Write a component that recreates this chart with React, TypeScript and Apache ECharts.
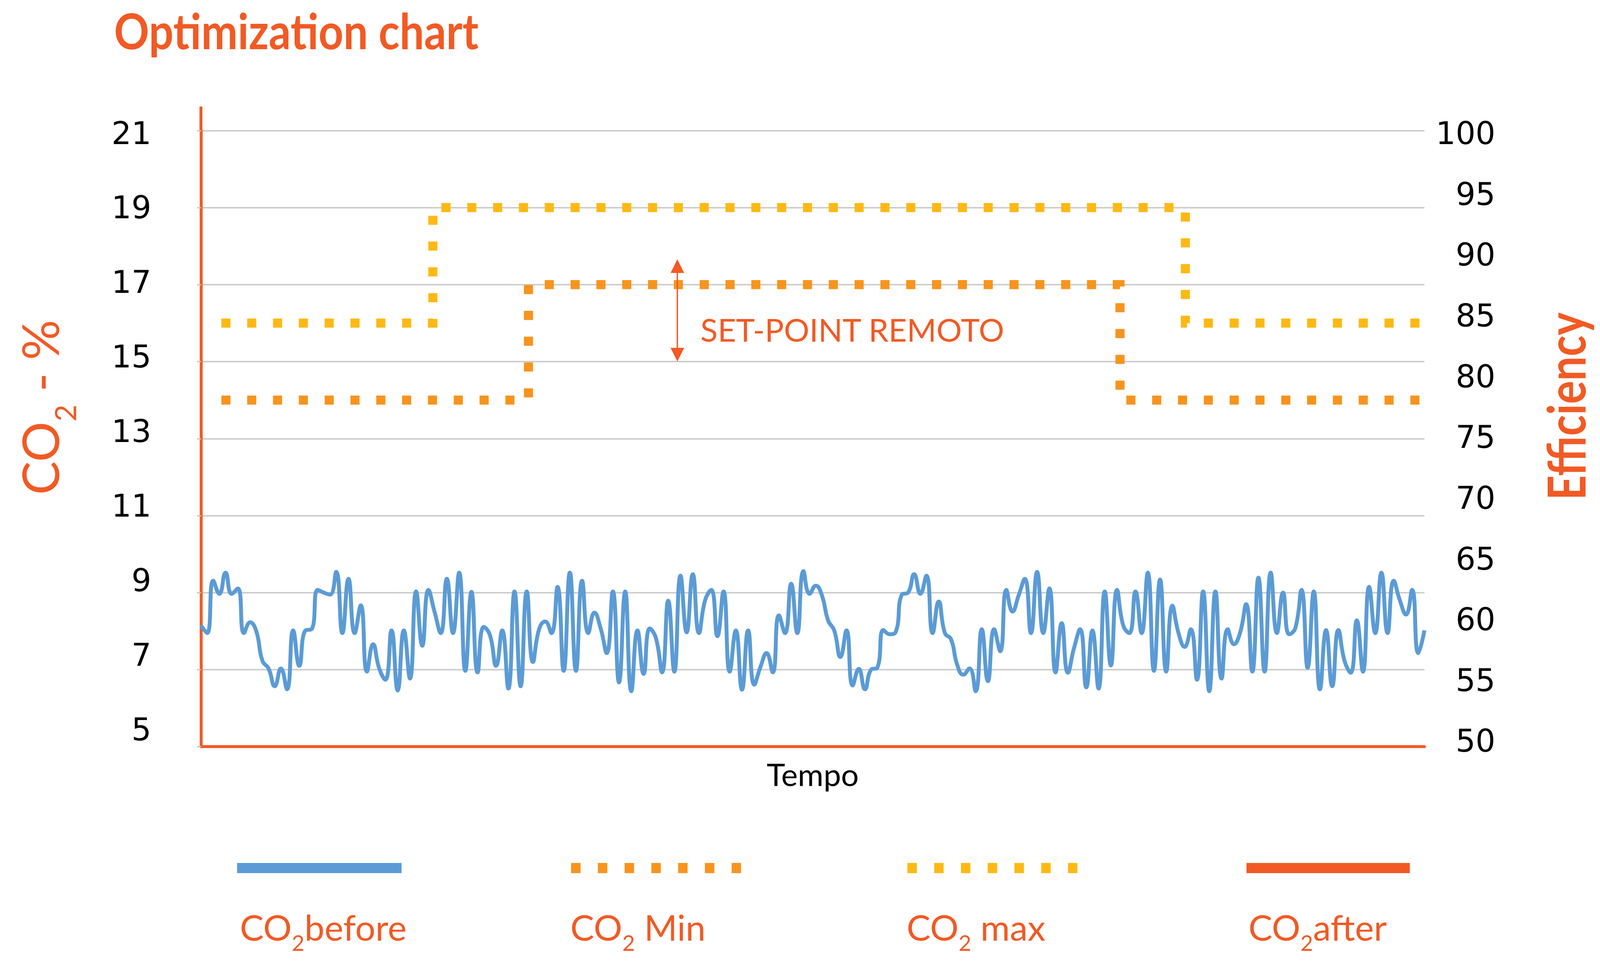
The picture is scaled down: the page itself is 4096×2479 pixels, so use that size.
import React, { useEffect, useRef } from 'react';
import * as echarts from 'echarts';

const WIDTH = 4096;
const HEIGHT = 2479;

const ORANGE = '#F15A24';
const BLUE = '#5B9BD5';
const MIN_COLOR = '#F7941D';
const MAX_COLOR = '#FDB913';
const GRID_COLOR = '#C8C8C8';

// CO2 before (%), one sample per time step
const co2Before: number[] = [
  8.15, 7.95, 9.31, 8.97, 9.52, 8.97, 9.11, 7.95, 8.23, 8.0, 7.23, 7.03, 6.57, 7.03, 6.49, 8.02, 7.1, 8.02, 8.05, 9.07,
  9.0, 8.95, 9.54, 7.95, 9.36, 7.95, 8.67, 6.95, 7.66, 7.03, 6.74, 8.02, 6.46, 8.02, 6.77, 9.03, 7.62, 9.07, 8.5, 7.95,
  9.36, 7.95, 9.52, 6.97, 9.02, 6.93, 8.11, 7.9, 7.1, 8.02, 6.51, 9.03, 6.57, 9.03, 7.2, 8.05, 8.25, 7.95, 9.15, 6.97,
  9.52, 6.97, 9.31, 7.95, 8.48, 8.08, 7.43, 9.03, 6.67, 9.03, 6.44, 8.02, 6.89, 8.07, 7.82, 6.93, 8.79, 6.95, 9.44, 7.97,
  9.48, 7.95, 8.8, 9.07, 7.87, 9.03, 6.95, 8.02, 6.48, 8.02, 6.61, 7.07, 7.43, 6.93, 8.41, 7.95, 9.23, 7.95, 9.56, 8.97,
  9.18, 8.93, 8.28, 8.02, 7.33, 8.02, 6.59, 7.02, 6.49, 7.0, 7.05, 8.03, 7.92, 7.98, 8.95, 9.0, 9.48, 8.97, 9.44, 7.95,
  8.77, 7.95, 7.79, 7.13, 6.87, 7.03, 6.44, 8.05, 6.7, 8.05, 7.48, 9.07, 8.51, 8.93, 9.36, 7.95, 9.54, 7.95, 9.11, 6.93,
  8.21, 6.92, 7.56, 8.05, 6.54, 8.02, 6.51, 9.03, 7.11, 9.07, 8.15, 7.95, 9.03, 7.95, 9.52, 6.97, 9.34, 6.95, 8.66, 7.95,
  7.59, 8.05, 6.74, 9.03, 6.44, 9.03, 6.77, 8.05, 7.66, 7.95, 8.7, 6.95, 9.39, 6.95, 9.52, 7.95, 9.0, 7.92, 8.08, 9.07,
  7.05, 9.03, 6.49, 8.03, 6.57, 8.03, 7.23, 6.92, 8.28, 6.95, 9.15, 7.95, 9.52, 7.95, 9.31, 8.8, 8.43, 9.07, 7.43, 8.02,
];
const timeSteps: number[] = co2Before.map((_, i) => i);

// CO2 max / min set-points (step lines): time, value
const co2MaxTimes = [3.32, 37.72, 37.72, 160.11, 160.11, 199];
const co2MaxValues = [16, 16, 19, 19, 16, 16];
const co2MinTimes = [3.32, 53.27, 53.27, 149.48, 149.48, 199];
const co2MinValues = [14, 14, 17, 17, 14, 14];

// remote set-point arrow (time, from, to)
const arrowTime = 77.49;
const arrowRange = [15.18, 17.48];

// axes
const co2Range = [5, 21];
const co2Step = 2;
const efficiencyRange = [50, 100];
const efficiencyStep = 5;
const timeRange = [0, 199];

const legendNames = ['before', ' Min', ' max', 'after'];

const GRID = { left: 514.4, right: 449.4, top: 334.4, bottom: 566.8 };

// main text of size F, subscript of size Fs whose centre sits `off` px below the main centre
function richSub(F: number, Fs: number, off: number, color: string) {
  return {
    a: { fontSize: F, lineHeight: F, verticalAlign: 'top', fontFamily: 'Lato', fill: color },
    s: { fontSize: Fs, lineHeight: off + F / 2 + Fs / 2, verticalAlign: 'bottom', fontFamily: 'Lato', fill: color },
  };
}

function buildOption() {
  const legendLineY = 2223;
  const legendLines = [
    { x1: 607, x2: 1028, color: BLUE, dash: null },
    { x1: 1462, x2: 1897, color: MIN_COLOR, dash: [24.2, 44.3] },
    { x1: 2323, x2: 2758, color: MAX_COLOR, dash: [24.2, 44.3] },
    { x1: 3191, x2: 3609, color: ORANGE, dash: null },
  ];
  const legendLabelX = [614, 1460, 2321, 3196];

  const graphic: any[] = [
    // extension of the vertical axis above the plot
    {
      type: 'line',
      shape: { x1: GRID.left, y1: 272.8, x2: GRID.left, y2: GRID.top },
      style: { stroke: ORANGE, lineWidth: 7.5 },
      silent: true,
    },
    {
      type: 'text',
      x: 292,
      y: 77,
      scaleX: 0.884,
      style: {
        text: 'Optimization chart',
        fontFamily: 'Lato',
        fontWeight: 'bold',
        fontSize: 126,
        lineHeight: 108,
        fill: ORANGE,
        align: 'left',
        verticalAlign: 'middle',
      },
    },
    {
      type: 'text',
      x: 36.5,
      y: 1043,
      rotation: Math.PI / 2,
      style: {
        text: '{a|CO}{s|2}{a| - %}',
        rich: richSub(129, 75, 65, ORANGE),
        align: 'center',
        verticalAlign: 'top',
      },
    },
    {
      type: 'text',
      x: 4007,
      y: 1040.6,
      rotation: Math.PI / 2,
      scaleX: 0.83,
      style: {
        text: 'Efficiency',
        fontFamily: 'Lato',
        fontWeight: 'bold',
        fontSize: 134,
        fill: ORANGE,
        align: 'center',
        verticalAlign: 'middle',
      },
    },
    {
      type: 'text',
      x: 1793,
      y: 843,
      style: {
        text: 'SET-POINT REMOTO',
        fontFamily: 'Lato',
        fontSize: 81.5,
        fill: ORANGE,
        align: 'left',
        verticalAlign: 'middle',
      },
    },
  ];

  legendLines.forEach((l) => {
    graphic.push({
      type: 'line',
      shape: { x1: l.x1, y1: legendLineY, x2: l.x2, y2: legendLineY },
      style: { stroke: l.color, lineWidth: 26, lineCap: 'butt', lineDash: l.dash || undefined },
      silent: true,
    });
  });
  legendNames.forEach((n, i) => {
    graphic.push({
      type: 'text',
      x: legendLabelX[i],
      y: 2327,
      style: {
        text: `{a|CO}{s|2}{a|${n}}`,
        rich: richSub(91.5, 56, 41, ORANGE),
        align: 'left',
        verticalAlign: 'top',
      },
    });
  });

  const labelFont = { color: '#000', fontFamily: 'DejaVu Sans', fontSize: 80 };

  return {
    animation: false,
    backgroundColor: '#ffffff',
    grid: [
      { ...GRID, containLabel: false },
      // label band for the CO2 axis
      { left: GRID.left, right: GRID.right, top: 341, bottom: HEIGHT - 1868.7, containLabel: false },
      // label band for the efficiency axis
      { left: GRID.left, right: GRID.right, top: 341.6, bottom: HEIGHT - 1897.9, containLabel: false },
    ],
    xAxis: [
      {
        type: 'value',
        gridIndex: 0,
        min: timeRange[0],
        max: timeRange[1],
        axisLine: { show: true, onZero: false, lineStyle: { color: ORANGE, width: 7.5 } },
        axisTick: { show: false },
        axisLabel: { show: false },
        splitLine: { show: false },
        name: 'Tempo',
        nameLocation: 'middle',
        nameGap: 30,
        nameTextStyle: { color: '#000', fontFamily: 'Lato', fontSize: 80 },
      },
      { type: 'value', gridIndex: 1, min: 0, max: 1, show: false },
      { type: 'value', gridIndex: 2, min: 0, max: 1, show: false },
    ],
    yAxis: [
      {
        type: 'value',
        gridIndex: 0,
        min: co2Range[0],
        max: co2Range[1],
        interval: co2Step,
        position: 'left',
        axisLine: { show: true, lineStyle: { color: ORANGE, width: 7.5 } },
        axisTick: { show: true, length: 10, lineStyle: { color: GRID_COLOR, width: 3.5 } },
        axisLabel: { show: false },
        splitLine: { show: true, lineStyle: { color: GRID_COLOR, width: 3.5 } },
      },
      {
        type: 'value',
        gridIndex: 1,
        min: co2Range[0],
        max: co2Range[1],
        interval: co2Step,
        position: 'left',
        axisLine: { show: false },
        axisTick: { show: false },
        splitLine: { show: false },
        axisLabel: { ...labelFont, margin: 127 },
      },
      {
        type: 'value',
        gridIndex: 2,
        min: efficiencyRange[0],
        max: efficiencyRange[1],
        interval: efficiencyStep,
        position: 'right',
        axisLine: { show: false },
        axisTick: { show: false },
        splitLine: { show: false },
        axisLabel: { ...labelFont, margin: 181.6, align: 'right' },
      },
    ],
    series: [
      {
        name: 'CO2 max',
        type: 'line',
        xAxisIndex: 0,
        yAxisIndex: 0,
        symbol: 'none',
        silent: true,
        data: co2MaxTimes.map((t, i) => [t, co2MaxValues[i]]),
        lineStyle: { color: MAX_COLOR, width: 23.3, type: [23.3, 42.8], cap: 'butt', join: 'miter' },
      },
      {
        name: 'CO2 Min',
        type: 'line',
        xAxisIndex: 0,
        yAxisIndex: 0,
        symbol: 'none',
        silent: true,
        data: co2MinTimes.map((t, i) => [t, co2MinValues[i]]),
        lineStyle: { color: MIN_COLOR, width: 23.3, type: [23.3, 42.8], cap: 'butt', join: 'miter' },
        markLine: {
          silent: true,
          symbol: ['triangle', 'triangle'],
          symbolSize: 35,
          label: { show: false },
          emphasis: { disabled: true },
          lineStyle: { color: ORANGE, width: 3.5, type: 'solid' },
          data: [[{ coord: [arrowTime, arrowRange[0]] }, { coord: [arrowTime, arrowRange[1]] }]],
        },
      },
      {
        name: 'CO2 before',
        type: 'line',
        xAxisIndex: 0,
        yAxisIndex: 0,
        symbol: 'none',
        silent: true,
        smooth: 0.5,
        data: co2Before.map((v, i) => [timeSteps[i], v]),
        lineStyle: { color: BLUE, width: 10 },
      },
    ],
    graphic,
  };
}

export default function App() {
  const ref = useRef<HTMLDivElement>(null);
  useEffect(() => {
    if (!ref.current) return;
    const chart = echarts.init(ref.current, null, { renderer: 'svg', width: WIDTH, height: HEIGHT });
    chart.setOption(buildOption() as any);
    return () => {
      chart.dispose();
    };
  }, []);
  return (
    <div
      ref={ref}
      style={{ position: 'fixed', left: 0, top: 0, width: WIDTH, height: HEIGHT, background: '#ffffff' }}
    />
  );
}
